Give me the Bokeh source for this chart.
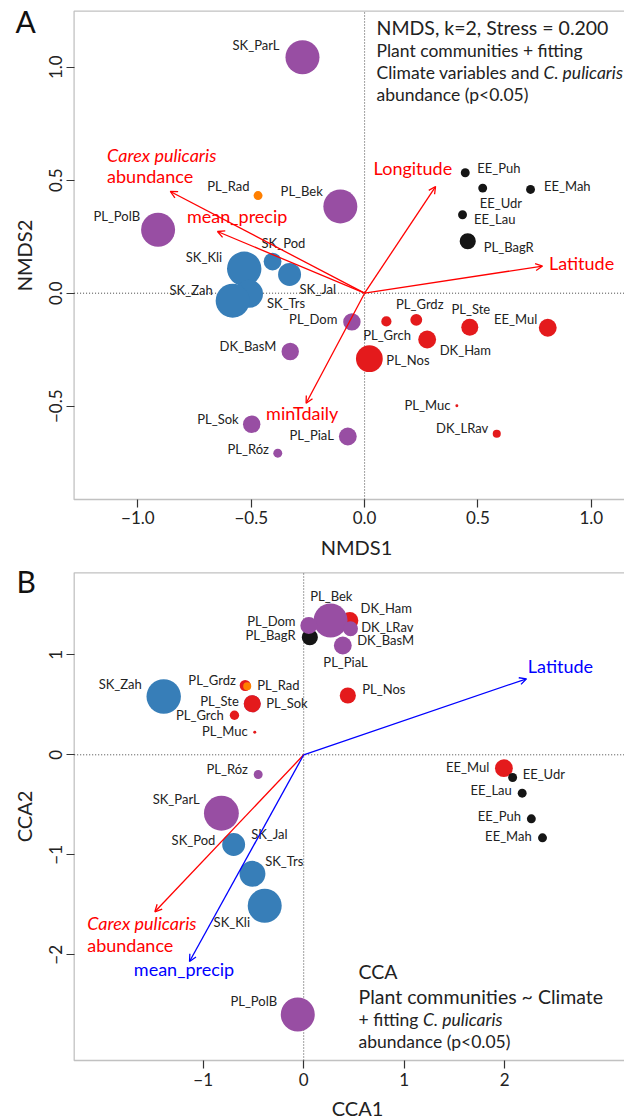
import math
from bokeh.plotting import figure
from bokeh.models import (Range1d, FixedTicker, CustomJSTickFormatter, Arrow, LinearAxis,
                          OpenHead, Label, ColumnDataSource, BoxAnnotation)
from bokeh.layouts import column
from bokeh.embed import file_html
from bokeh.resources import INLINE
from bokeh.core.properties import value

FONT = "Lato"

# ---------------- data ----------------
sites = ["SK_ParL", "PL_Rad", "PL_Bek", "PL_PolB", "EE_Puh", "EE_Udr", "EE_Mah", "EE_Lau",
         "PL_BagR", "SK_Pod", "SK_Kli", "SK_Jal", "SK_Trs", "SK_Zah", "PL_Dom", "PL_Grch",
         "PL_Grdz", "PL_Ste", "EE_Mul", "DK_Ham", "PL_Nos", "PL_Muc", "DK_LRav", "DK_BasM",
         "PL_Sok", "PL_PiaL", "PL_Róz"]
group = ["purple", "orange", "purple", "purple", "black", "black", "black", "black",
         "black", "blue", "blue", "blue", "blue", "blue", "purple", "red",
         "red", "red", "red", "red", "red", "red", "red", "purple",
         "purple", "purple", "purple"]

# NMDS site scores (panel A)
nmds1 = [-0.274, -0.470, -0.107, -0.911, 0.444, 0.521, 0.732, 0.432,
         0.455, -0.406, -0.531, -0.331, -0.510, -0.582, -0.056, 0.096,
         0.228, 0.464, 0.808, 0.276, 0.021, 0.407, 0.583, -0.328,
         -0.498, -0.074, -0.383]
nmds2 = [1.044, 0.432, 0.384, 0.281, 0.533, 0.465, 0.459, 0.347,
         0.230, 0.140, 0.108, 0.083, -0.003, -0.033, -0.127, -0.125,
         -0.118, -0.151, -0.153, -0.205, -0.290, -0.498, -0.622, -0.258,
         -0.580, -0.634, -0.708]
# point size (cex-like) panel A
cex_A = [4.0, 1.05, 4.0, 4.0, 1.05, 1.05, 1.05, 1.05,
         1.9, 2.1, 4.05, 2.7, 3.3, 4.0, 2.05, 1.2,
         1.4, 2.0, 2.1, 2.1, 3.15, 0.35, 0.95, 2.05,
         2.05, 2.1, 1.05]

# CCA site scores (panel B)
cca1 = [-0.819, -0.562, 0.267, -0.059, 2.265, 2.079, 2.376, 2.174,
        0.061, -0.697, -0.388, -0.697, -0.510, -1.393, 0.051, -0.689,
        -0.582, -0.512, 1.992, 0.459, 0.439, -0.487, 0.439, 0.466,
        -0.512, 0.389, -0.453]
cca2 = [-0.584, 0.686, 1.343, -2.597, -0.640, -0.227, -0.830, -0.384,
        1.176, -0.900, -1.510, -0.897, -1.190, 0.583, 1.293, 0.396,
        0.693, 0.510, -0.134, 1.343, 0.593, 0.226, 1.276, 1.260,
        0.510, 1.093, -0.197]
cex_B = [4.1, 0.95, 4.0, 4.0, 1.05, 1.05, 1.05, 1.05,
         1.9, 2.1, 4.0, 2.7, 3.05, 4.05, 2.0, 1.1,
         1.3, 2.0, 2.1, 2.0, 1.9, 0.35, 0.95, 1.75,
         2.0, 2.1, 1.05]

# fitted vectors
vec_A_names = ["Carex pulicaris|abundance", "mean_precip", "Longitude", "Latitude", "minTdaily"]
vec_A_x = [-0.857, -0.649, 0.313, 0.785, -0.258]
vec_A_y = [0.450, 0.273, 0.472, 0.120, -0.487]
vec_B_names = ["Latitude", "Carex pulicaris|abundance", "mean_precip"]
vec_B_x = [2.217, -1.481, -1.136]
vec_B_y = [0.760, -1.570, -2.067]

# ticks
xticks_A = [-1.0, -0.5, 0.0, 0.5, 1.0]
xlabels_A = ["\u22121.0", "\u22120.5", "0.0", "0.5", "1.0"]
yticks_A = [-0.5, 0.0, 0.5, 1.0]
ylabels_A = ["\u22120.5", "0.0", "0.5", "1.0"]
xticks_B = [-1, 0, 1, 2]
xlabels_B = ["\u22121", "0", "1", "2"]
yticks_B = [-2, -1, 0, 1]
ylabels_B = ["\u22122", "\u22121", "0", "1"]

# ---------------- style / layout ----------------
COLORS = {"purple": "#984EA3", "blue": "#377EB8", "red": "#E41A1C",
          "orange": "#FF7F00", "black": "#151515"}
PX_PER_CEX = 8.5
BASE_SHIFT = 0.45   # Label baseline correction (fraction of font size)
draw_order = ["EE_Mul", "EE_Puh", "EE_Udr", "EE_Mah", "EE_Lau", "PL_BagR", "DK_Ham", "DK_LRav",
              "PL_Grdz", "PL_Grch", "PL_Nos", "PL_Muc", "PL_Sok", "PL_Ste", "PL_Rad",
              "SK_Pod", "SK_Jal", "SK_Kli", "SK_Trs", "SK_Zah", "SK_ParL", "PL_Bek",
              "PL_PolB", "PL_Dom", "DK_BasM", "PL_PiaL", "PL_Róz"]

# label placement (pixel offsets from point, alignment)
lab_A = {"SK_ParL": (-23, -12, "right"), "PL_Rad": (-8.5, -10, "right"),
         "PL_Bek": (-17.5, -15.5, "right"), "PL_PolB": (-18, -14, "right"),
         "EE_Puh": (12, -5, "left"), "EE_Udr": (-3, 15, "left"), "EE_Mah": (13.5, -3.5, "left"),
         "EE_Lau": (11.5, 4, "left"), "PL_BagR": (16, 5.5, "left"), "SK_Pod": (-11, -19, "left"),
         "SK_Kli": (-22, -12, "right"), "SK_Jal": (10, 15, "left"), "SK_Trs": (18, 9, "left"),
         "SK_Zah": (-20, -10.5, "right"), "PL_Dom": (-14.5, -2.5, "right"),
         "PL_Grch": (0.7, 13.5, "center"), "PL_Grdz": (3.5, -15.5, "center"),
         "PL_Ste": (1, -18.5, "center"), "EE_Mul": (-10.5, -8.5, "right"),
         "DK_Ham": (12.5, 10, "left"), "PL_Nos": (17, 1, "left"), "PL_Muc": (-6.5, -1, "right"),
         "DK_LRav": (-8.5, -5.5, "right"), "DK_BasM": (-14, -5.5, "right"),
         "PL_Sok": (-13, -5.5, "right"), "PL_PiaL": (-14, -1, "right"), "PL_Róz": (-9, -4, "right")}
lab_B = {"SK_ParL": (-21.7, -13.9, "right"), "PL_Rad": (10, -1.2, "left"),
         "PL_Bek": (0.8, -24.5, "center"), "PL_PolB": (-20.7, -13.5, "right"),
         "EE_Puh": (-10.3, -2.8, "right"), "EE_Udr": (10, -3.8, "left"),
         "EE_Mah": (-10.8, -1.8, "right"), "EE_Lau": (-10.4, -2.9, "right"),
         "PL_BagR": (-14.3, -2.2, "right"), "SK_Pod": (-18.3, -4.5, "right"),
         "SK_Kli": (-14.7, 16.2, "right"), "SK_Jal": (17.5, -10.2, "left"),
         "SK_Trs": (12.7, -12.8, "left"), "SK_Zah": (-21.9, -12.8, "right"),
         "PL_Dom": (-13.3, -4.5, "right"), "PL_Grch": (-10.7, 0, "right"),
         "PL_Grdz": (-9.4, -5.2, "right"), "PL_Ste": (-13.4, -2.8, "right"),
         "EE_Mul": (-14.7, -1.2, "right"), "DK_Ham": (10.7, -12.5, "left"),
         "PL_Nos": (14.4, -6.2, "left"), "PL_Muc": (-7, -1.2, "right"),
         "DK_LRav": (13.4, -0.5, "left"), "DK_BasM": (6.7, 11.5, "left"),
         "PL_Sok": (14, -1.1, "left"), "PL_PiaL": (2.7, 16.5, "center"),
         "PL_Róz": (-10.4, -5.2, "right")}

TXT = "#222222"
AX = "#333333"
RED = "#FF0000"
BLUE = "#0000FF"


def make_fig(height, xr, yr, box, xt, xl, yt, yl):
    p = figure(width=624, height=height, x_range=Range1d(xr[0], xr[1]),
               y_range=Range1d(yr[0], yr[1]), output_backend="svg", toolbar_location=None,
               x_axis_location=None, y_axis_location=None,
               min_border_left=0, min_border_right=0, min_border_top=0, min_border_bottom=0)
    p.outline_line_color = None
    p.grid.visible = False
    x0, x1, y0, y1 = box
    # dotted zero lines inside the box
    p.segment(x0=[x0, 0], y0=[0, y0], x1=[x1, 0], y1=[0, y1], line_color="#444444",
              line_dash="1 2", line_width=1)
    xa = LinearAxis(fixed_location=y0, bounds=(x0, x1))
    ya = LinearAxis(fixed_location=x0, bounds=(y0, y1))
    p.add_layout(xa, "below")
    p.add_layout(ya, "left")
    for ax, tv, tl in ((xa, xt, xl), (ya, yt, yl)):
        ax.ticker = FixedTicker(ticks=tv, minor_ticks=[])
        ax.formatter = CustomJSTickFormatter(
            args=dict(tvals=tv, tlabs=tl),
            code="for (let i = 0; i < tvals.length; i++) { if (Math.abs(tvals[i] - tick) < 1e-6) return tlabs[i]; } return '';")
        ax.major_tick_out = 8
        ax.major_tick_in = 0
        ax.minor_tick_line_color = None
        ax.axis_line_color = None
        ax.major_tick_line_color = AX
        ax.major_tick_line_width = 1.2
        ax.major_label_text_font = FONT
        ax.major_label_text_font_size = "17px"
        ax.major_label_text_color = TXT
        ax.major_label_standoff = 4
    ya.major_label_orientation = "vertical"
    p.add_layout(BoxAnnotation(left=x0, right=x1, bottom=y0, top=y1, fill_color=None,
                               fill_alpha=0, line_color=AX, line_width=1.3, level="underlay"))
    return p


def add_points(p, xs, ys, cex, labs):
    idx = [sites.index(s) for s in draw_order]
    src = ColumnDataSource(dict(
        x=[xs[i] for i in idx], y=[ys[i] for i in idx],
        size=[cex[i] * PX_PER_CEX for i in idx],
        color=[COLORS[group[i]] for i in idx]))
    p.scatter("x", "y", size="size", fill_color="color", line_color=None, source=src)
    for align in ("left", "center", "right"):
        sel = [i for i, s in enumerate(sites) if labs[s][2] == align]
        if not sel:
            continue
        s2 = ColumnDataSource(dict(
            x=[xs[i] for i in sel], y=[ys[i] for i in sel], t=[sites[i] for i in sel],
            dx=[labs[sites[i]][0] for i in sel], dy=[labs[sites[i]][1] for i in sel]))
        p.text("x", "y", text="t", x_offset="dx", y_offset="dy", source=s2,
               text_align=align, text_baseline="middle", text_font=value(FONT),
               text_font_size="13px", text_color=TXT)


def add_vectors(p, xs, ys, colors):
    for x, y, c in zip(xs, ys, colors):
        p.add_layout(Arrow(x_start=0, y_start=0, x_end=x, y_end=y, line_color=c,
                           line_width=1.3,
                           end=OpenHead(size=7, line_color=c, line_width=1.3)))


def lab(p, x, y, text, size, color=TXT, align="left", italic=False, units="data",
        angle=0, ppu=1.0):
    sh = BASE_SHIFT * size / ppu
    if angle:
        x -= sh
    else:
        y += sh
    p.add_layout(Label(x=x, y=y, text=text, x_units=units, y_units=units,
                       text_font=FONT, text_font_size=f"{size}px", text_color=color,
                       text_align=align, text_baseline="alphabetic", angle=angle,
                       text_font_style="italic" if italic else "normal"))


# ---------------- panel A ----------------
PPU_A = 226.3
pA = make_fig(560, (-1.6061, 1.1465), (-1.1828, 1.2951), (-1.2815, 1.30, -0.9128, 1.2478),
              xticks_A, xlabels_A, yticks_A, ylabels_A)
add_points(pA, nmds1, nmds2, cex_A, lab_A)
add_vectors(pA, vec_A_x, vec_A_y, [RED] * 5)
carex1, carex2 = vec_A_names[0].split("|")
lab(pA, -1.136, 0.577, carex1, 18, RED, "left", italic=True, ppu=PPU_A)
lab(pA, -1.136, 0.481, carex2, 18, RED, "left", ppu=PPU_A)
lab(pA, -0.562, 0.304, vec_A_names[1], 18, RED, "center", ppu=PPU_A)
lab(pA, 0.213, 0.518, vec_A_names[2], 18, RED, "center", ppu=PPU_A)
lab(pA, 0.957, 0.097, vec_A_names[3], 18, RED, "center", ppu=PPU_A)
lab(pA, -0.275, -0.568, vec_A_names[4], 18, RED, "center", ppu=PPU_A)
lab(pA, 376, 524, "NMDS, k=2, Stress = 0.200", 19.5, units="screen")
lab(pA, 376, 501.7, "Plant communities + fitting", 17.5, units="screen")
lab(pA, 376, 480, "Climate variables and ", 17.5, units="screen")
lab(pA, 543, 480, "C. pulicaris", 17.5, italic=True, units="screen")
lab(pA, 376, 458.3, "abundance (p<0.05)", 17.5, units="screen")
lab(pA, 15, 525.7, "A", 30, "#111111", units="screen")
lab(pA, 356, 5, "NMDS1", 20, align="center", units="screen")
lab(pA, 32, 305, "NMDS2", 20, align="center", units="screen", angle=math.pi / 2)

# ---------------- panel B ----------------
PPU_B = 100.0
pB = make_fig(559, (-3.0169, 3.1920), (-3.647, 1.943), (-2.2836, 3.4, -3.057, 1.82),
              xticks_B, xlabels_B, yticks_B, ylabels_B)
add_points(pB, cca1, cca2, cex_B, lab_B)
add_vectors(pB, vec_B_x, vec_B_y, [BLUE, RED, BLUE])
c1, c2 = vec_B_names[1].split("|")
lab(pB, 2.23, 0.81, vec_B_names[0], 18, BLUE, "left", ppu=PPU_B)
lab(pB, -2.154, -1.767, c1, 18, RED, "left", italic=True, ppu=PPU_B)
lab(pB, -2.154, -1.984, c2, 18, RED, "left", ppu=PPU_B)
lab(pB, -1.69, -2.224, vec_B_names[2], 18, BLUE, "left", ppu=PPU_B)
lab(pB, 358, 139, "CCA", 19.5, units="screen")
lab(pB, 358, 114, "Plant communities ~ Climate", 19.5, units="screen")
lab(pB, 358, 91.7, "+ fitting ", 17.5, units="screen")
lab(pB, 422.6, 91.7, "C. pulicaris", 17.5, italic=True, units="screen")
lab(pB, 358, 70, "abundance (p<0.05)", 17.5, units="screen")
lab(pB, 16, 525, "B", 30, "#111111", units="screen")
lab(pB, 357, 3, "CCA1", 20, align="center", units="screen")
lab(pB, 32, 303, "CCA2", 20, align="center", units="screen", angle=math.pi / 2)

layout = column(pA, pB, spacing=0)
open("out.html", "w").write(file_html(layout, INLINE))
